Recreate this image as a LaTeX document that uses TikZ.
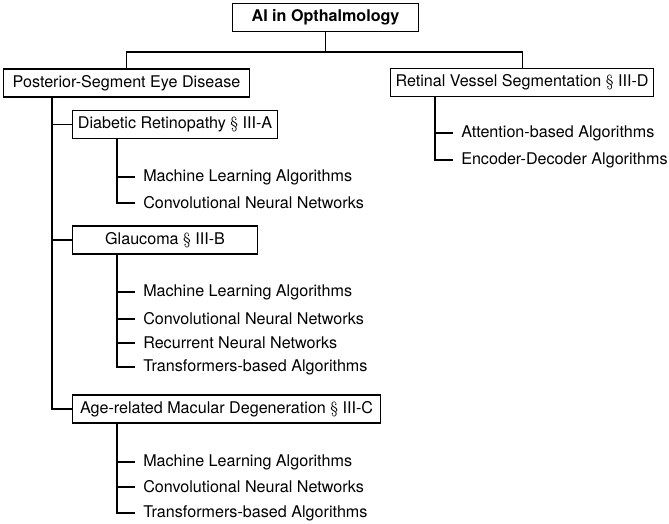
\documentclass[tikz,border=0pt]{standalone}
\usepackage{fontspec}
\setsansfont{TeX Gyre Heros}
\usetikzlibrary{calc}
\newcommand{\secmark}{\textrm{\S}}

\begin{document}
\begin{tikzpicture}[
  x=0.75pt, y=-0.75pt,
  font=\sffamily\fontsize{12.1}{14}\selectfont,
  box/.style = {draw, line width=0.8pt, anchor=west,
    minimum height=21pt, inner xsep=0pt},
  leaf/.style = {anchor=west, inner xsep=6pt, inner ysep=0pt},
  link/.style = {line width=0.8pt},
  trunk/.style = {line width=1.3pt}
  ]
  \useasboundingbox (0,0) rectangle (669,524);
  % root and first level
  \node[box, minimum width=139.5pt] (root) at (232,17.5) {\bfseries AI in Opthalmology};
  \node[box, minimum width=184.5pt] (post) at (3,83) {Posterior-Segment Eye Disease};
  \node[box, minimum width=197.25pt] (ret) at (390,82.5) {Retinal Vessel Segmentation \secmark{} III-D};
  \draw[link] (root.south) -- ++(0,20) coordinate (bus);
  \draw[link] (post.north) |- (bus) -| (ret.north);
  % diseases
  \node[box, minimum width=153.75pt] (dr) at (72,124.5) {Diabetic Retinopathy \secmark{} III-A};
  \node[box, minimum width=138.75pt] (gl) at (72,240) {Glaucoma \secmark{} III-B};
  \node[box, minimum width=231pt] (amd) at (72,409) {Age-related Macular Degeneration \secmark{} III-C};
  \coordinate (tr) at ($(post.south west)+(49,0)$);
  \draw[trunk] (tr) |- (amd.west);
  \draw[link] (tr) |- (dr.west);
  \draw[link] (tr) |- (gl.west);
  % diabetic retinopathy
  \node[leaf] (dr1) at (135,177) {Machine Learning Algorithms};
  \node[leaf] (dr2) at (135,203) {Convolutional Neural Networks};
  \foreach \n in {dr1,dr2}
    \draw[link] ($(dr.south west)+(45,0)$) |- (\n.west);
  % glaucoma
  \node[leaf] (gl1) at (135,292) {Machine Learning Algorithms};
  \node[leaf] (gl2) at (135,319) {Convolutional Neural Networks};
  \node[leaf] (gl3) at (135,343) {Recurrent Neural Networks};
  \node[leaf] (gl4) at (135,367) {Transformers-based Algorithms};
  \foreach \n in {gl1,gl2,gl3,gl4}
    \draw[link] ($(gl.south west)+(45,0)$) |- (\n.west);
  % age-related macular degeneration
  \node[leaf] (amd1) at (135,462) {Machine Learning Algorithms};
  \node[leaf] (amd2) at (135,487) {Convolutional Neural Networks};
  \node[leaf] (amd3) at (135,513) {Transformers-based Algorithms};
  \foreach \n in {amd1,amd2,amd3}
    \draw[link] ($(amd.south west)+(45,0)$) |- (\n.west);
  % retinal vessel segmentation
  \node[leaf] (ret1) at (453,133) {Attention-based Algorithms};
  \node[leaf] (ret2) at (453,160) {Encoder-Decoder Algorithms};
  \foreach \n in {ret1,ret2}
    \draw[link] ($(ret.south west)+(45,0)$) |- (\n.west);
\end{tikzpicture}
\end{document}
